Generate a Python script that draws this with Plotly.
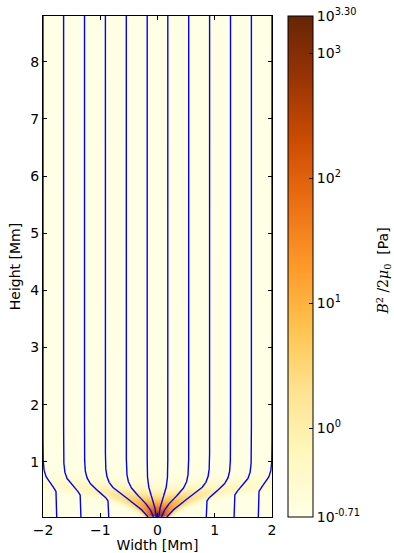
import numpy as np
import plotly.graph_objects as go

# ---------------- data ----------------
# horizontal positions (Mm) where each traced field line leaves the top of the box
line_top_x = [-2.0, -1.64, -1.275, -0.91, -0.545, -0.18, 0.18, 0.545, 0.91, 1.275, 1.64, 2.0]

# flux-tube model parameters (axisymmetric Gaussian tube in a uniform background field)
tube_flux = 0.45          # tube flux in units of background field * Mm^2
background_field = 1.0    # relative background field
tube_width_base = 0.11    # tube e-folding radius at the lower boundary (Mm)
tube_scale_height = 0.20  # exponential expansion height of the tube (Mm)
z_bottom = 0.036          # lower boundary of the box (Mm)
z_top = 8.8               # upper boundary of the box (Mm)
x_min, x_max = -2.0, 2.0
log_p_background = -0.71  # log10 of background magnetic pressure (Pa)

# axis / colorbar ticks
x_ticks = [-2, -1, 0, 1, 2]
y_ticks = [1, 2, 3, 4, 5, 6, 7, 8]
cb_tickvals = [-0.71, 0, 1, 2, 3, 3.30]
cb_ticktext = ["10<sup>-0.71</sup>", "10<sup>0</sup>", "10<sup>1</sup>",
               "10<sup>2</sup>", "10<sup>3</sup>", "10<sup>3.30</sup>"]
cb_range = [-0.7105, 3.3005]

# matplotlib YlOrBr
ylorbr = ["#ffffe5", "#fff7bc", "#fee391", "#fec44f", "#fe9929",
          "#ec7014", "#cc4c02", "#993404", "#662506"]

# ---------------- model ----------------
def width(z):
    return tube_width_base * np.exp((z - z_bottom) / tube_scale_height)

def flux(r, z):
    w = width(z)
    return background_field * r**2 / 2 + tube_flux * (1 - np.exp(-r**2 / w**2))

def field(r, z):
    w = width(z)
    e = np.exp(-r**2 / w**2)
    bz = background_field + 2 * tube_flux / w**2 * e
    br = 2 * tube_flux * r * e / (w**2 * tube_scale_height)
    return br, bz

# pressure map
xg = np.linspace(x_min, x_max, 321)
zg = np.concatenate([np.linspace(z_bottom, 1.5, 360), np.linspace(1.5, z_top, 90)[1:]])
X, Z = np.meshgrid(xg, zg)
BR, BZ = field(np.abs(X), Z)
logp = log_p_background + np.log10((BR**2 + BZ**2) / background_field**2)

fig = go.Figure()
fig.add_trace(go.Heatmap(
    x=xg, y=zg, z=logp,
    colorscale=[[i / (len(ylorbr) - 1), c] for i, c in enumerate(ylorbr)],
    zmin=cb_range[0], zmax=cb_range[1],
    hoverinfo="skip",
    colorbar=dict(
        x=1.07, xanchor="left", xpad=0, ypad=0, y=0.5, yanchor="middle",
        len=1, lenmode="fraction", thickness=25,
        outlinecolor="black", outlinewidth=1,
        tickvals=cb_tickvals, ticktext=cb_ticktext,
        ticks="inside", ticklen=4, tickcolor="black",
        ticklabeloverflow="allow",
        tickfont=dict(size=14, color="black", family="DejaVu Sans"),
    ),
))

# field lines: contours of the flux function
z_line = np.concatenate([np.geomspace(z_bottom, 1.6, 500), np.linspace(1.6, z_top, 60)[1:]])
for x0 in line_top_x:
    r0 = abs(x0)
    level = flux(r0, z_top)
    lo = np.zeros_like(z_line)
    hi = np.full_like(z_line, 3.0)
    for _ in range(60):
        mid = (lo + hi) / 2
        above = flux(mid, z_line) > level
        hi = np.where(above, mid, hi)
        lo = np.where(above, lo, mid)
    r = (lo + hi) / 2
    fig.add_trace(go.Scatter(
        x=np.sign(x0) * r, y=z_line, mode="lines",
        line=dict(color="#0000ff", width=1.4),
        showlegend=False, hoverinfo="skip",
    ))

axis_common = dict(
    showgrid=False, zeroline=False, showline=True, linecolor="black", linewidth=1,
    mirror="ticks", ticks="inside", ticklen=4, tickcolor="black", automargin=False,
    tickfont=dict(size=14, color="black"),
)
fig.update_xaxes(range=[x_min, x_max], tickvals=x_ticks,
                 title=dict(text="Width [Mm]", font=dict(size=14, color="black"), standoff=2),
                 **axis_common)
fig.update_yaxes(range=[z_bottom, z_top], tickvals=y_ticks,
                 title=dict(text="Height [Mm]", font=dict(size=14, color="black"), standoff=6),
                 **axis_common)

fig.add_annotation(
    x=1.485, y=0.49, xref="paper", yref="paper", showarrow=False, textangle=-90,
    xanchor="center", yanchor="middle",
    text='<span style="font-family:DejaVu Serif"><i>B</i><sup>2</sup> /2<i>μ</i><sub>0</sub></span>  [Pa]',
    font=dict(size=14, color="black", family="DejaVu Sans"),
)

fig.update_layout(
    template="none",
    width=394, height=553,
    margin=dict(l=43, r=122, t=16, b=36, autoexpand=False),
    paper_bgcolor="white", plot_bgcolor="white",
    font=dict(family="DejaVu Sans", size=14, color="black"),
)

# remove the browser's default page margin so the figure sits at the window origin
fig.write_html("out.html", config={"displayModeBar": False, "staticPlot": True},
               post_script="document.body.style.margin='0';")
